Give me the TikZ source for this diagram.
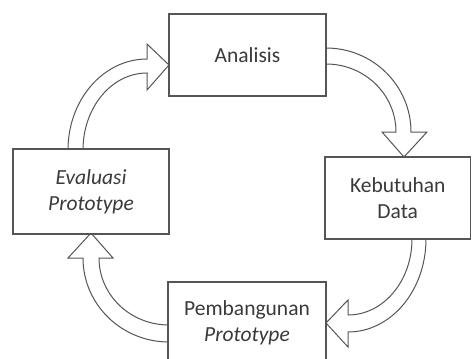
\documentclass[tikz,border=0pt]{standalone}
\usepackage{fontspec}
\setmainfont{Carlito}
\definecolor{ln}{HTML}{555555}
\definecolor{tx}{HTML}{3A3A3A}
\begin{document}
\begin{tikzpicture}[x=1pt,y=1pt,yscale=-1,
  box/.style={draw=ln, line width=1.2pt, fill=white, text=tx, align=center,
    inner sep=0pt, font=\fontsize{21.5}{26}\selectfont},
  blk/.style={draw=ln, line width=1pt, fill=white, line join=miter}]
\useasboundingbox (0,0) rectangle (472,359);
\clip (0,0) rectangle (472,359);
% block arrows
\draw[blk] (68,150) arc[start angle=180, end angle=270, x radius=79pt, y radius=91pt]
  -- (147,44) -- (169,65) -- (147,90) -- (147,73)
  arc[start angle=270, end angle=180, x radius=64pt, y radius=77pt] -- cycle;
\draw[blk] (326,48) arc[start angle=270, end angle=360, x radius=85pt, y radius=84pt]
  -- (427,132) -- (404,157) -- (382,132) -- (396,132)
  arc[start angle=360, end angle=270, x radius=70pt, y radius=68pt] -- cycle;
\draw[blk] (426,239) arc[start angle=0, end angle=90, x radius=78pt, y radius=93pt]
  -- (348,347) -- (326,323) -- (348,300) -- (348,315)
  arc[start angle=90, end angle=0, x radius=64pt, y radius=76pt] -- cycle;
\draw[blk] (169,342) arc[start angle=90, end angle=180, x radius=86pt, y radius=84pt]
  -- (68,258) -- (91,233) -- (113,258) -- (99,258)
  arc[start angle=180, end angle=90, x radius=70pt, y radius=67pt] -- cycle;
% boxes
\node[box, minimum width=157pt, minimum height=82pt] (ana) at (247.5,55) {Analisis};
\node[box, minimum width=156pt, minimum height=85pt] (eva) at (91,191.5) {\textit{Evaluasi}\\\textit{Prototype}};
\node[box, minimum width=145.5pt, minimum height=82pt] (keb) at (397.75,198) {Kebutuhan\\Data};
\node[box, minimum width=158pt, minimum height=82pt] (pem) at (247,323) {Pembangunan\\\textit{Prototype}};
\end{tikzpicture}
\end{document}
